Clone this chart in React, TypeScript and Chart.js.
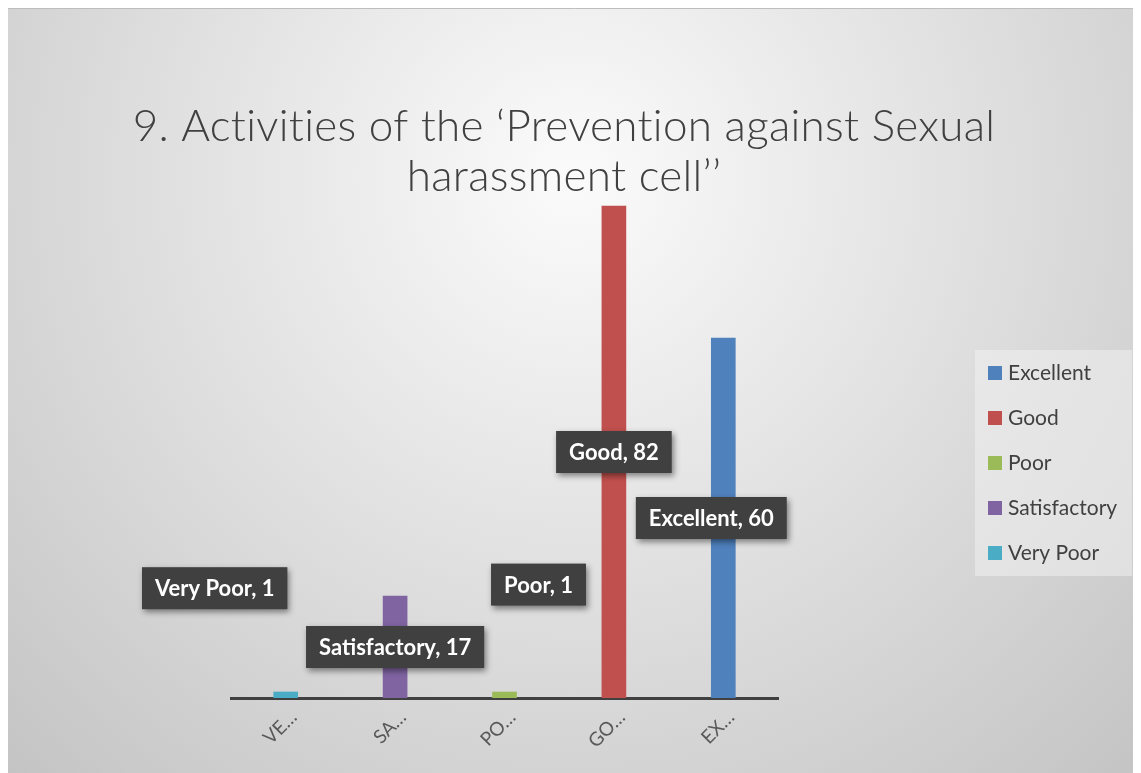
import React, { useEffect, useRef } from "react";
import { Chart, registerables } from "chart.js";

Chart.register(...registerables);

const categories = ["VERY POOR", "SATISFACTORY", "POOR", "GOOD", "EXCELLENT"];
const seriesNames = ["Excellent", "Good", "Poor", "Satisfactory", "Very Poor"];
const seriesValues = [60, 82, 1, 17, 1];
const seriesColors = ["#4F81BD", "#C0504D", "#9BBB59", "#8064A2", "#4BACC6"];
const titleLines = ["9. Activities of the \u2018Prevention against Sexual", "harassment cell\u2019\u2019"];

const FONT = "Lato, 'Open Sans', sans-serif";

const bgPlugin = {
  id: "bgPlugin",
  beforeDraw(chart: any) {
    const { ctx, width, height } = chart;
    ctx.save();
    const g = ctx.createRadialGradient(565, 170, 0, 565, 170, 820);
    g.addColorStop(0, "#fbfbfb");
    g.addColorStop(1, "#c4c4c4");
    ctx.fillStyle = g;
    ctx.fillRect(0, 0, width, height);
    ctx.strokeStyle = "#bdbdbd";
    ctx.lineWidth = 1;
    ctx.beginPath();
    ctx.moveTo(0, 0.5);
    ctx.lineTo(width, 0.5);
    ctx.stroke();
    // title
    ctx.fillStyle = "#404040";
    ctx.font = `300 44px ${FONT}`;
    (ctx as any).letterSpacing = "0.3px";
    ctx.textAlign = "center";
    ctx.textBaseline = "middle";
    ctx.fillText(titleLines[0], 556, 119);
    ctx.fillText(titleLines[1], 556, 169);
    ctx.restore();
  },
};

const labelPlugin = {
  id: "labelPlugin",
  afterDatasetsDraw(chart: any, _args: any, opts: any) {
    const { ctx } = chart;
    const yScale = chart.scales.y;
    ctx.save();
    ctx.font = `bold 22px ${FONT}`;
    ctx.textBaseline = "middle";
    ctx.textAlign = "center";
    chart.data.datasets.forEach((ds: any, di: number) => {
      const meta = chart.getDatasetMeta(di);
      const idx = ds.data.findIndex((v: any) => v !== null);
      const el = meta.data[idx];
      if (!el) return;
      const val = ds.data[idx];
      const place = opts.placement[di];
      const text = `${ds.label}, ${val}`;
      const cx = el.x + place.dx;
      const cy = yScale.getPixelForValue(place.at === null ? val / 2 : place.at);
      const tw = ctx.measureText(text).width;
      const w = tw + 26;
      const h = 42;
      ctx.save();
      ctx.shadowColor = "rgba(0,0,0,0.45)";
      ctx.shadowBlur = 6;
      ctx.shadowOffsetX = 2;
      ctx.shadowOffsetY = 3;
      ctx.fillStyle = "#404040";
      ctx.fillRect(cx - w / 2, cy - h / 2, w, h);
      ctx.restore();
      ctx.fillStyle = "#ffffff";
      ctx.fillText(text, cx, cy + 1);
    });
    ctx.restore();
  },
};

const legendPlugin = {
  id: "legendPlugin",
  afterDraw(chart: any) {
    const { ctx } = chart;
    ctx.save();
    ctx.fillStyle = "rgba(240,240,240,0.55)";
    ctx.fillRect(967, 342, 157, 226);
    ctx.font = `21px ${FONT}`;
    ctx.textBaseline = "middle";
    ctx.textAlign = "left";
    chart.data.datasets.forEach((ds: any, i: number) => {
      const cy = 365 + i * 45;
      ctx.fillStyle = ds.backgroundColor;
      ctx.fillRect(980, cy - 7, 14, 14);
      ctx.fillStyle = "#404040";
      ctx.fillText(ds.label, 1000, cy);
    });
    ctx.restore();
  },
};

export default function App() {
  const ref = useRef<HTMLCanvasElement>(null);
  useEffect(() => {
    if (!ref.current) return;
    const datasets = seriesNames.map((name, i) => {
      const ci = categories.indexOf(name.toUpperCase());
      return {
        label: name,
        data: categories.map((_, j) => (j === ci ? seriesValues[i] : null)),
        backgroundColor: seriesColors[i],
        borderWidth: 0,
        barThickness: 24,
      };
    });
    const chart = new Chart(ref.current, {
      type: "bar",
      data: { labels: categories, datasets },
      options: {
        animation: false,
        responsive: false,
        maintainAspectRatio: false,
        layout: { padding: { left: 223, right: 363, top: 150, bottom: 0 } },
        datasets: { bar: { skipNull: true } },
        plugins: {
          legend: { display: false },
          title: { display: false },
          tooltip: { enabled: false },
          labelPlugin: {
            placement: [
              { dx: -12, at: null },
              { dx: 0, at: null },
              { dx: 34, at: 18.9 },
              { dx: 0, at: null },
              { dx: -71, at: 18.3 },
            ],
          },
        } as any,
        scales: {
          x: {
            grid: { display: false },
            border: { display: true, color: "#404040", width: 3 },
            afterFit: (s: any) => {
              s.height = 75;
            },
            ticks: {
              color: "#595959",
              font: { family: FONT, size: 19 },
              minRotation: 45,
              maxRotation: 45,
              padding: 0,
              labelOffset: 8,
              callback: (_v: any, i: number) => categories[i].slice(0, 2) + "\u2026",
            },
          },
          y: { display: false, min: 0, max: 90 },
        },
      },
      plugins: [bgPlugin, labelPlugin, legendPlugin],
    });
    return () => chart.destroy();
  }, []);
  return <canvas ref={ref} width={1133} height={765} style={{ display: "block" }} />;
}
